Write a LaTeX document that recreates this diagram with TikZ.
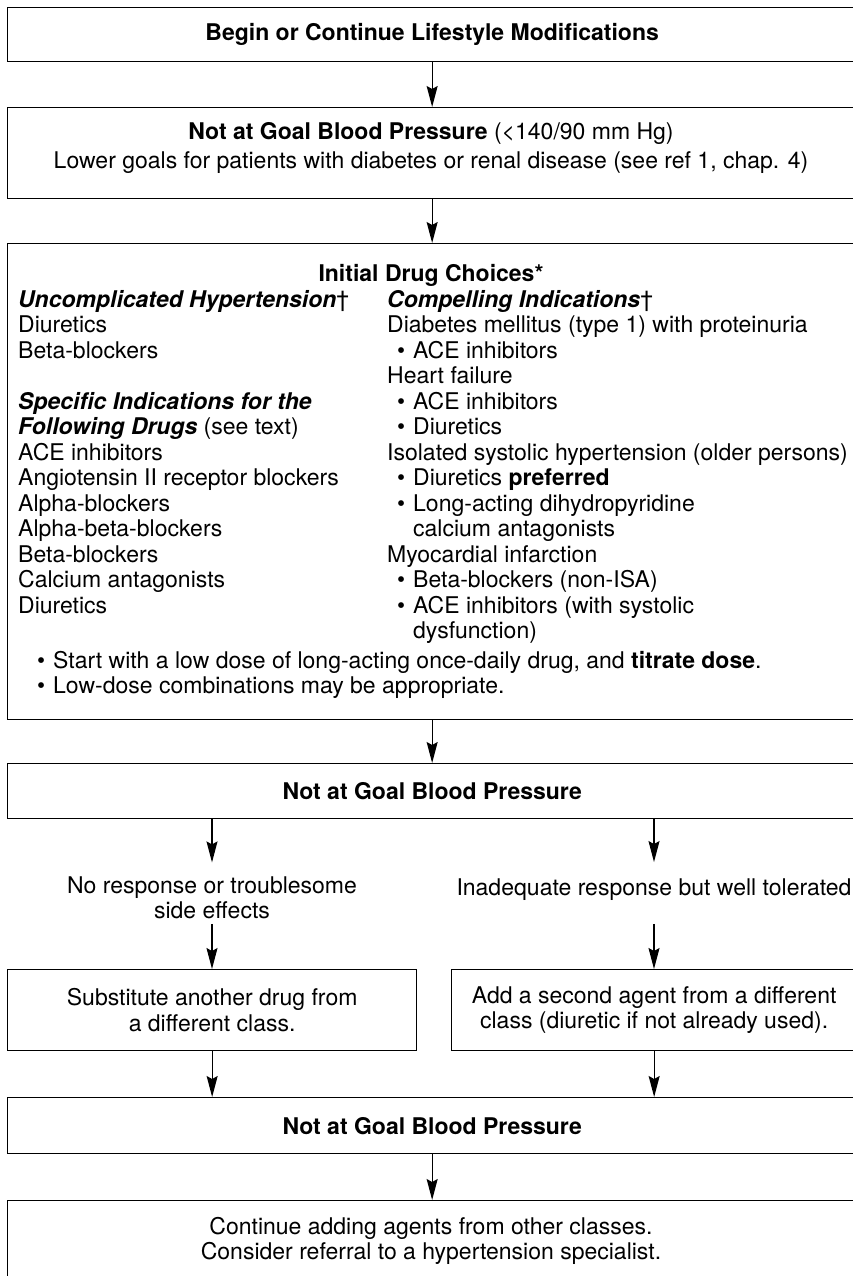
\documentclass[tikz,border=0pt]{standalone}
\usepackage{fontspec}
\setmainfont{TeX Gyre Heros}
\usetikzlibrary{arrows.meta}

% bullet item and its continuation line inside a column
\newcommand\bitem[1]{\makebox[26pt][l]{\hspace{10pt}\textbullet}#1}
\newcommand\bcont[1]{\hspace*{26pt}#1}

\tikzset{
  every node/.style={font=\fontsize{23}{25.5}\selectfont},
  box/.style={draw, line width=1.3pt, anchor=north west, inner sep=0pt, align=center},
  txt/.style={inner sep=0pt, align=center},
  col/.style={inner sep=0pt, align=left, anchor=base west},
  arr/.style={line width=1.2pt, -{Stealth[length=21pt,width=11pt,inset=3pt]}},
}

\begin{document}
\begin{tikzpicture}[x=1pt,y=-1pt]
\useasboundingbox (0,0) rectangle (853,1276);
\clip (0,0) rectangle (853,1276);

% main boxes
\node[box, minimum width=849pt, minimum height=54pt] (b1) at (7,7)
  {\bfseries Begin or Continue Lifestyle Modifications};
\node[box, minimum width=849pt, minimum height=91pt] (b2) at (7,107) {};
\node[txt] (t2) at (431,147.5)
  {\textbf{Not at Goal Blood Pressure} (<140/90 mm Hg)\\[3.5pt]
   Lower goals for patients with diabetes or renal disease (see ref 1, chap. 4)};
\node[box, minimum width=849pt, minimum height=476pt] (b3) at (7,243) {};
\node[box, minimum width=849pt, minimum height=55pt] (b4) at (7,763)
  {\bfseries Not at Goal Blood Pressure};

% contents of the initial drug choices box (anchored at the last baseline)
\node[txt, anchor=base] (h3) at (431,281) {\bfseries Initial Drug Choices*};
\node[col] (cl) at (18,613) {%
  {\bfseries\itshape Uncomplicated Hypertension}†\\
  Diuretics\\
  Beta-blockers\\[25.5pt]
  {\bfseries\itshape Specific Indications for the}\\
  {\bfseries\itshape Following Drugs} (see text)\\
  ACE inhibitors\\
  Angiotensin II receptor blockers\\
  Alpha-blockers\\
  Alpha-beta-blockers\\
  Beta-blockers\\
  Calcium antagonists\\
  Diuretics};
\node[col] (cr) at (387,638.5) {%
  {\bfseries\itshape Compelling Indications}†\\
  Diabetes mellitus (type 1) with proteinuria\\
  \bitem{ACE inhibitors}\\
  Heart failure\\
  \bitem{ACE inhibitors}\\
  \bitem{Diuretics}\\
  Isolated systolic hypertension (older persons)\\
  \bitem{Diuretics \textbf{preferred}}\\
  \bitem{Long-acting dihydropyridine}\\
  \bcont{calcium antagonists}\\
  Myocardial infarction\\
  \bitem{Beta-blockers (non-ISA)}\\
  \bitem{ACE inhibitors (with systolic}\\
  \bcont{dysfunction)}};
\node[col] (cb) at (27,693.5) {%
  \bitem{Start with a low dose of long-acting once-daily drug, and \textbf{titrate dose}.}\\
  \bitem{Low-dose combinations may be appropriate.}};

% branch labels
\node[txt, anchor=north] (t5a) at (212,876.4) {No response or troublesome\\side effects};
\node[txt, anchor=base] (t5b) at (654,895) {Inadequate response but well tolerated};

% second-step boxes
\node[box, minimum width=409pt, minimum height=81pt] (b5a) at (7,969)
  {Substitute another drug from\\a different class.};
\node[box, minimum width=405pt, minimum height=81pt] (b5b) at (451,969)
  {Add a second agent from a different\\class (diuretic if not already used).};
\node[box, minimum width=849pt, minimum height=56pt] (b6) at (7,1097)
  {\bfseries Not at Goal Blood Pressure};
\node[box, minimum width=849pt, minimum height=130pt] (b7) at (7,1200) {};
\node[txt] (t7) at (431,1241)
  {Continue adding agents from other classes.\\Consider referral to a hypertension specialist.};

% connectors
\draw[arr] (b1) -- (b2);
\draw[arr] (b2) -- (b3);
\draw[arr] (b3) -- (b4);
\draw[arr] (b4.south -| t5a) -- ([yshift=14pt]t5a.north);
\draw[arr] (b4.south -| t5b) -- ([yshift=16pt]t5b.north);
\draw[arr] ([yshift=-4.5pt]t5a.south) -- (t5a.south |- b5a.north);
\draw[arr] ([yshift=-4.5pt]t5a.south -| t5b) -- (t5b.south |- b5b.north);
\draw[arr] (b5a.south) -- (b5a.south |- b6.north);
\draw[arr] (b5b.south) -- (b5b.south |- b6.north);
\draw[arr] (b6) -- (b7.north -| b6.south);
\end{tikzpicture}
\end{document}
